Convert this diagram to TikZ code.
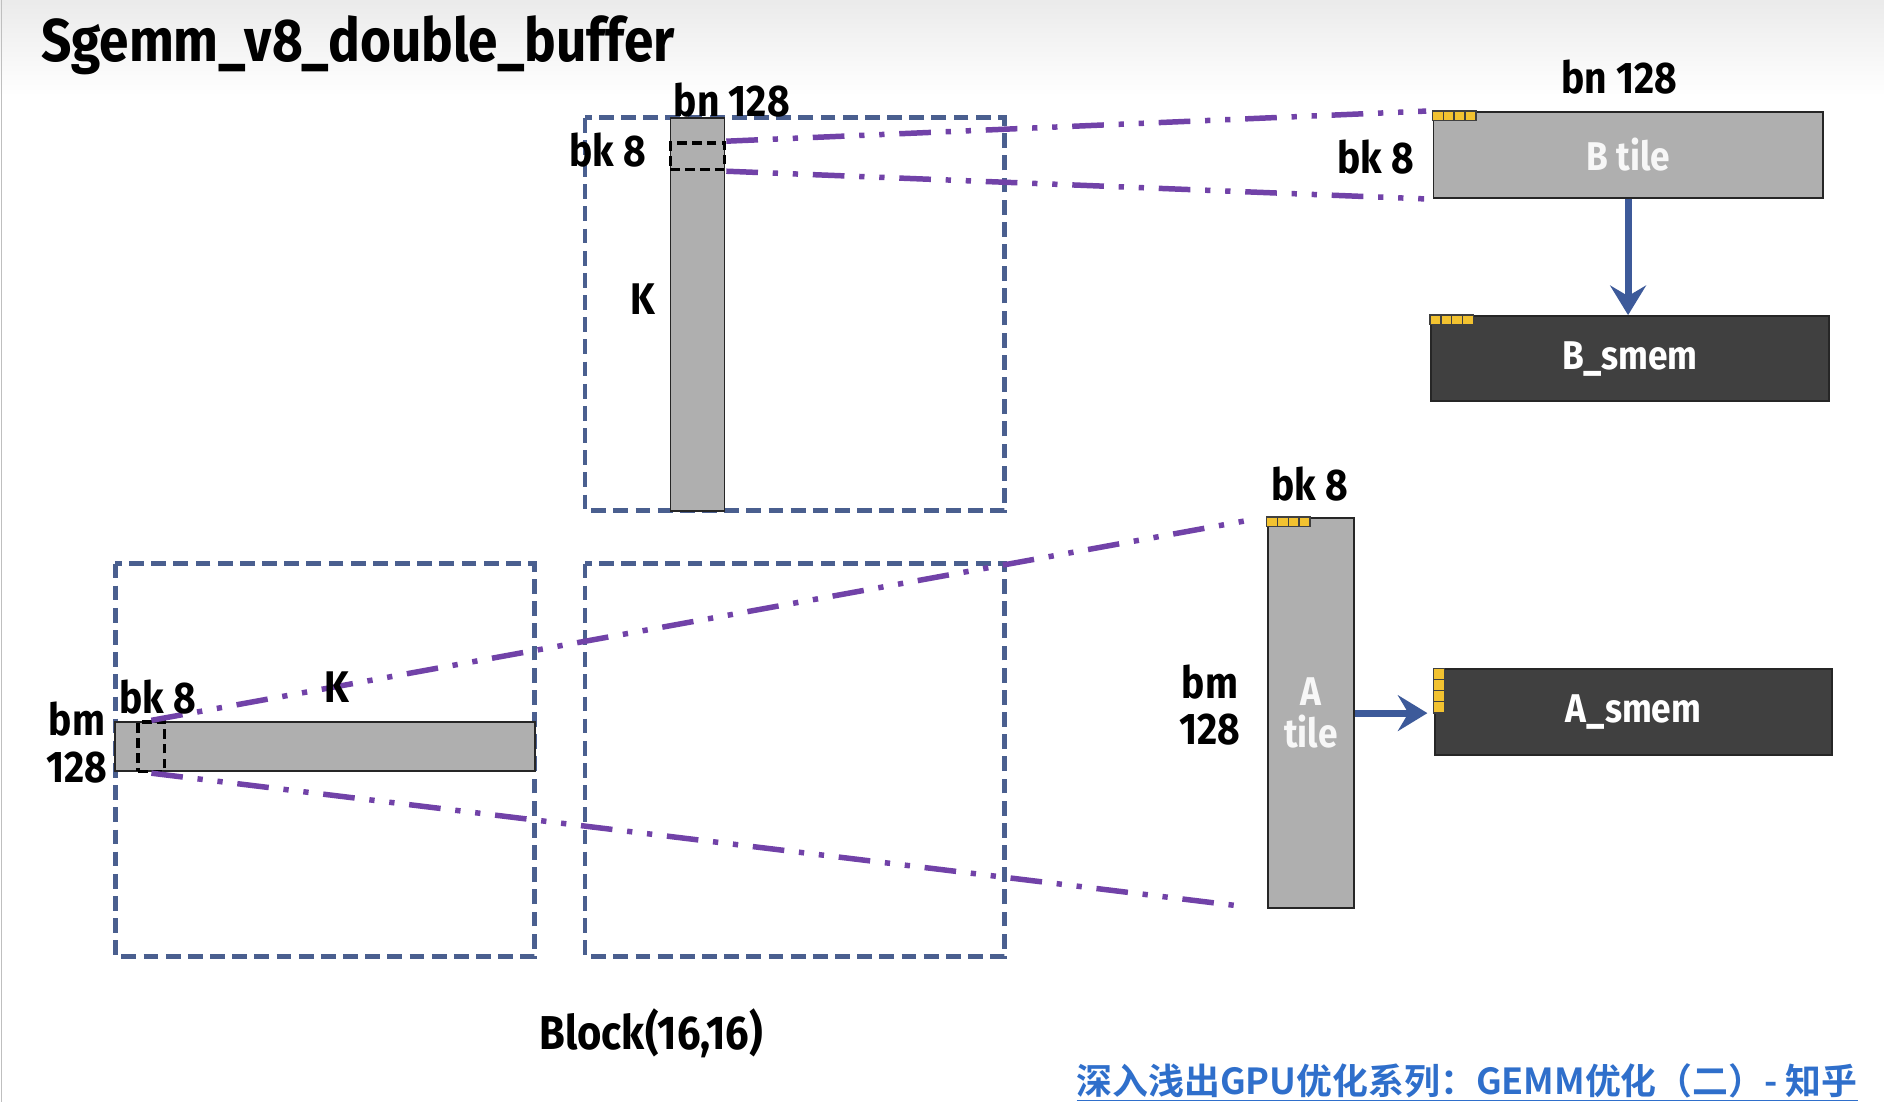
\documentclass[tikz,border=0pt]{standalone}
\usepackage{fontspec}
\setmainfont{Fira Sans}[FakeStretch=0.88]
\newfontfamily\cjk{Noto Sans CJK SC Bold}
\usetikzlibrary{arrows.meta, calc}
\usepackage{xcolor}

\definecolor{blockblue}{HTML}{4A5F8F}
\definecolor{linkpurple}{HTML}{7142A8}
\definecolor{tilegray}{HTML}{AFAFAF}
\definecolor{smemgray}{HTML}{404040}
\definecolor{feedblue}{HTML}{3D5A9A}
\definecolor{bankyellow}{HTML}{F2C230}
\definecolor{footblue}{HTML}{2F6FCB}

\begin{document}
\begin{tikzpicture}[x=0.02cm, y=-0.02cm,
	blockbox/.style={draw=blockblue, line width=2.2pt, dash pattern=on 7pt off 3.5pt},
	tile/.style={draw=black!85, line width=0.9pt, fill=tilegray, inner sep=0pt, text=white!97!black, font=\bfseries\fontsize{19}{21}\selectfont},
	smem/.style={tile, fill=smemgray, text=white},
	lbl/.style={font=\bfseries\fontsize{21}{22}\selectfont, inner sep=0pt, align=center},
	sel/.style={draw=black, line width=1.7pt, dash pattern=on 4.5pt off 2.5pt, inner sep=0pt},
	link/.style={draw=linkpurple, line width=2.6pt, dash pattern=on 15pt off 7pt on 2.5pt off 7pt on 2.5pt off 7pt},
	feed/.style={draw=feedblue, line width=3.4pt, -{Stealth[length=14pt, width=17pt, inset=5pt]}},
	bank/.style={draw=black!75, line width=0.7pt, fill=bankyellow}]
	\useasboundingbox (0,0) rectangle (1568,917);
	\fill[white] (0,0) rectangle (1568,917);
	\shade[top color=black!8, bottom color=white] (0,0) rectangle (1568,80);
	\draw[black!25, line width=0.6pt] (1,0) -- (1,917);
	% title
	\node[font=\bfseries\fontsize{28.6}{32}\selectfont, inner sep=0pt] (title) at (298,38) {Sgemm\_v8\_double\_buffer};
	% block frames
	\draw[blockbox] (487,98) rectangle (836,425);
	\draw[blockbox] (96,469) rectangle (445,796);
	\draw[blockbox] (487,469) rectangle (836,796);
	% global memory slices
	\node[tile, minimum width=0.9cm, minimum height=6.54cm] (bcol) at (580.5,261.5) {};
	\node[sel, minimum width=0.9cm, minimum height=0.44cm] (bsel) at (580.5,130) {};
	\node[tile, minimum width=6.98cm, minimum height=0.82cm] (arow) at (270.5,621.5) {};
	\node[sel, minimum width=0.44cm, minimum height=0.82cm] (asel) at (126,621.5) {};
	% tiles and shared memory
	\node[tile, minimum width=6.48cm, minimum height=1.44cm] (btile) at (1355,129) {B tile};
	\node[smem, minimum width=6.62cm, minimum height=1.42cm] (bsmem) at (1356.5,298.5) {B\_smem};
	\node[tile, minimum width=1.44cm, minimum height=6.5cm, align=center] (atile) at (1091,593.5) {A\\[-1pt]tile};
	\node[smem, minimum width=6.62cm, minimum height=1.42cm] (asmem) at (1359.5,592.5) {A\_smem};
	\foreach \i in {0,...,3} {
		\draw[bank] ($(btile.north west)+(\i*9,0)$) rectangle +(9,8);
		\draw[bank] ($(bsmem.north west)+(\i*9,0)$) rectangle +(9,8);
		\draw[bank] ($(atile.north west)+(\i*9,0)$) rectangle +(9,8);
		\draw[bank] ($(asmem.north west)+(0,\i*9.25)$) rectangle +(9,9.25);
	}
	% links
	\draw[link, shorten >=3pt] (bsel.north east) -- (btile.north west);
	\draw[link, shorten >=4pt] (bsel.south east) -- (btile.south west);
	\draw[link, shorten >=8pt] (asel.north) -- (atile.north west);
	\draw[link, shorten >=9pt] (asel.south) -- (atile.south west);
	\draw[feed] (btile.south) -- (btile.south |- bsmem.north);
	\draw[feed, shorten >=3pt] (atile.east) -- (atile.east -| asmem.west);
	% labels
	\node[lbl] (bnb) at (609,83) {bn 128};
	\node[lbl] (bkb) at (506,125) {bk 8};
	\node[lbl] (kb) at (535,249) {K};
	\node[lbl] (bnt) at (1348,64) {bn 128};
	\node[lbl] (bkt) at (1145,131) {bk 8};
	\node[lbl] (bka) at (1090,403) {bk 8};
	\node[lbl] (bmt) at (1007,587) {bm\\128};
	\node[lbl] (bma) at (64,618) {bm\\128};
	\node[lbl] (bkr) at (131,580) {bk 8};
	\node[lbl] (ka) at (280,572) {K};
	\node[lbl, font=\bfseries\fontsize{22.5}{24}\selectfont] (grid) at (542,860) {Block(16,16)};
	\node[font=\cjk\fontsize{17}{20}\selectfont, text=footblue, inner sep=0pt] (src) at (1221,901) {\underline{深入浅出GPU优化系列：GEMM优化（二）- 知乎}};
\end{tikzpicture}
\end{document}
